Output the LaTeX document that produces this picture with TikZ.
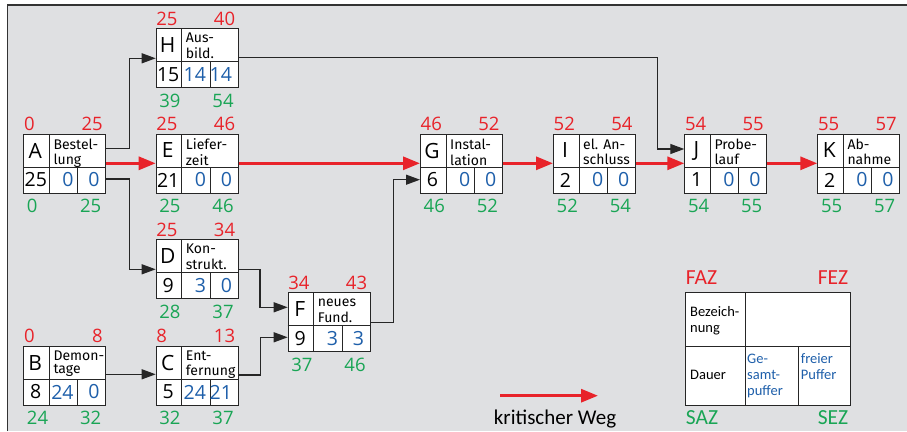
\documentclass[tikz,border=0pt]{standalone}
\usepackage{fontspec}
\setmainfont{Fira Sans}
\newfontfamily\legfont{Carlito}
\newfontfamily\numfont{Open Sans}
\usetikzlibrary{calc,arrows.meta}
\definecolor{cred}{RGB}{232,35,42}
\definecolor{cgreen}{RGB}{25,165,85}
\definecolor{cblue}{RGB}{30,95,170}
\definecolor{bgcol}{RGB}{223,224,226}
\newcommand\twol[2]{\strut#1\\\strut#2}
\begin{document}
\begin{tikzpicture}[x=1pt,y=-1pt,
  box/.style={draw=black!85,line width=1.1pt,fill=white,minimum width=82pt,minimum height=59pt,inner sep=0pt,anchor=north west},
  sep/.style={draw=black!85,line width=1pt},
  ltrs/.style={font=\numfont\fontsize{21}{24}\selectfont,inner sep=0pt},
  num/.style={font=\numfont\fontsize{19.5}{24}\selectfont,inner sep=0pt},
  bnum/.style={num,text=cblue,anchor=east},
  dsc/.style={font=\fontsize{14}{13.5}\selectfont,align=left,inner sep=0pt,anchor=north west},
  fazl/.style={font=\numfont\fontsize{18.5}{20}\selectfont,text=cred,inner sep=0pt},
  sazl/.style={font=\numfont\fontsize{18.5}{20}\selectfont,text=cgreen,inner sep=0pt},
  lg/.style={font=\legfont\fontsize{14.5}{16}\selectfont,align=left,inner sep=0pt},
  lgbig/.style={font=\legfont\fontsize{21.5}{24}\selectfont,inner sep=0pt},
  conn/.style={draw=black!85,line width=1.2pt,-{Triangle[length=14pt,width=10pt]}},
  crit/.style={draw=cred,line width=3pt,-{Triangle[length=17pt,width=13pt]}},
]
\useasboundingbox (0,0) rectangle (907,431);
\fill[bgcol] (7.5,5) rectangle (907,431);
\draw[line width=1.5pt,black!80] (7.5,431) -- (7.5,5) -- (907,5);

% activity boxes
\foreach \n/\x/\y/\lett/\dsctxt/\dur/\gpf/\fpf/\faz/\fez/\saz/\sez in {
  H/155.7/28.3/H/{\twol{Aus-}{bild.}}/15/14/14/25/40/39/54,
  A/23.3/134/A/{\twol{Bestel-}{lung}}/25/0/0/0/25/0/25,
  E/155.7/134/E/{\twol{Liefer-}{zeit}}/21/0/0/25/46/25/46,
  D/155.7/239.3/D/{\twol{Kon-}{strukt.}}/9/3/0/25/34/28/37,
  B/23.3/346/B/{\twol{Demon-}{tage}}/8/24/0/0/8/24/32,
  C/155.7/346/C/{\twol{Ent-}{fernung}}/5/24/21/8/13/32/37,
  F/287.7/292.3/F/{\twol{neues}{Fund.}}/9/3/3/34/43/37/46,
  G/420/134/G/{\twol{Instal-}{lation}}/6/0/0/46/52/46/52,
  I/553/134/I/{\twol{el. An-}{schluss}}/2/0/0/52/54/52/54,
  J/684.3/134/J/{\twol{Probe-}{lauf}}/1/0/0/54/55/54/55,
  K/817.3/134/K/{\twol{Ab-}{nahme}}/2/0/0/55/57/55/57}{
  \node[box] (\n) at (\x,\y) {};
  \draw[sep] ($(\n.north west)+(0,33)$) -- ($(\n.north east)+(0,33)$);
  \draw[sep] ($(\n.north west)+(26,0)$) -- ($(\n.south west)+(26,0)$);
  \draw[sep] ($(\n.north west)+(54.4,33)$) -- ($(\n.south west)+(54.4,0)$);
  \node[ltrs] (\n-L) at ($(\n.north west)+(12,16.5)$) {\lett};
  \node[dsc] (\n-T) at ($(\n.north west)+(30,4.5)$) {\dsctxt};
  \node[num] (\n-D) at ($(\n.north west)+(12.5,46)$) {\dur};
  \node[bnum] (\n-G) at ($(\n.north west)+(50.5,46)$) {\gpf};
  \node[bnum] (\n-P) at ($(\n.north west)+(76.5,46)$) {\fpf};
  \node[fazl,anchor=base west] (\n-fa) at ($(\n.north west)+(0.5,-3.3)$) {\faz};
  \node[fazl,anchor=base east] (\n-fe) at ($(\n.north east)+(-3.5,-3.3)$) {\fez};
  \node[sazl,anchor=base west] (\n-sa) at ($(\n.south west)+(3.5,18.7)$) {\saz};
  \node[sazl,anchor=base east] (\n-se) at ($(\n.south east)+(-5,18.7)$) {\sez};
}

% connectors
\draw[conn] ($(A.north east)+(0,14.3)$) -- ++(23,0) |- ($(H.north west)+(0,30)$);
\draw[conn] ($(A.north east)+(0,45)$) -- ++(23,0) |- ($(D.north west)+(0,30)$);
\draw[crit] ($(A.north east)+(0,29.3)$) -- ($(E.north west)+(0,29.3)$);
\draw[crit] ($(E.north east)+(0,29.3)$) -- ($(G.north west)+(0,29.3)$);
\draw[conn] ($(H.north east)+(0,29.4)$) -| ($(J.north west)+(-26.6,15)$) -- ($(J.north west)+(0,15)$);
\draw[conn] ($(D.north east)+(0,30)$) -| ($(F.north west)+(-27.7,15)$) -- ($(F.north west)+(0,15)$);
\draw[conn] ($(C.north east)+(0,29)$) -| ($(F.north west)+(-27,45)$) -- ($(F.north west)+(0,45)$);
\draw[conn] ($(B.north east)+(0,28.3)$) -- ($(C.north west)+(0,28.3)$);
\draw[conn] ($(F.north east)+(0,30)$) -| ($(G.north west)+(-26.7,45.7)$) -- ($(G.north west)+(0,45.7)$);
\draw[crit] ($(G.north east)+(0,29.3)$) -- ($(I.north west)+(0,29.3)$);
\draw[crit] ($(I.north east)+(0,29.3)$) -- ($(J.north west)+(0,29.3)$);
\draw[crit] ($(J.north east)+(0,29.3)$) -- ($(K.north west)+(0,29.3)$);

% legend
\node[box,minimum width=165pt,minimum height=112.7pt] (leg) at (685,292.3) {};
\draw[sep] ($(leg.north west)+(0,54.4)$) -- ($(leg.north east)+(0,54.4)$);
\draw[sep] ($(leg.north west)+(60,0)$) -- ($(leg.south west)+(60,0)$);
\draw[sep] ($(leg.north west)+(113,54.4)$) -- ($(leg.south west)+(113,0)$);
\node[lg,anchor=north west] (leg-bez) at (690,305.5) {\strut Bezeich-\\\strut nung};
\node[lg,anchor=base west] (leg-dau) at (690,379.3) {Dauer};
\node[lg,text=cblue,anchor=north west] (leg-gp) at (747,352.1) {\strut Ge-\\\strut samt-\\\strut puffer};
\node[lg,text=cblue,anchor=north west] (leg-fp) at (800.7,352.1) {\strut freier\\\strut Puffer};
\node[lgbig,text=cred,anchor=base west] (leg-faz) at (685.7,284) {FAZ};
\node[lgbig,text=cred,anchor=base east] (leg-fez) at (848.3,284) {FEZ};
\node[lgbig,text=cgreen,anchor=base west] (leg-saz) at (685.7,424) {SAZ};
\node[lgbig,text=cgreen,anchor=base east] (leg-sez) at (848.3,424) {SEZ};

\coordinate (kw-a) at (500,395.7);
\coordinate (kw-b) at (598,395.7);
\draw[crit] (kw-a) -- (kw-b);
\node[font=\legfont\fontsize{21}{24}\selectfont,inner sep=0pt,anchor=base] (kw) at (555,424.3) {kritischer Weg};
\end{tikzpicture}
\end{document}
